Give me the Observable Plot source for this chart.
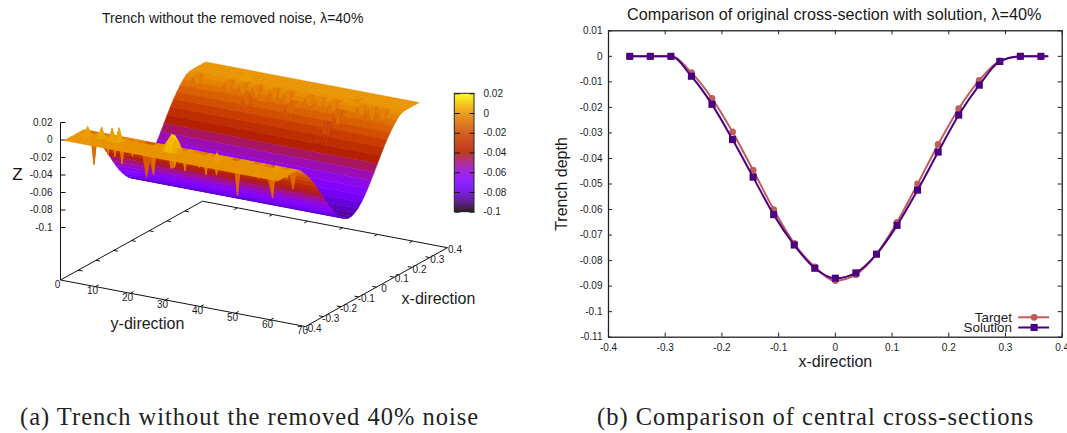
<!DOCTYPE html>
<html>
<head>
<meta charset="utf-8">
<script src="https://cdn.jsdelivr.net/npm/d3@7"></script>
<script src="https://cdn.jsdelivr.net/npm/@observablehq/plot@0.6"></script>
<style>
html,body{margin:0;padding:0;background:#fff;}
#page{position:relative;width:1067px;height:433px;overflow:hidden;font-family:"Liberation Sans",Arial,sans-serif;color:#1a1a1a;}
#page svg{position:absolute;top:0;background:transparent;}
.t{position:absolute;white-space:nowrap;line-height:18px;}
.c{position:absolute;white-space:nowrap;font-family:"Liberation Serif",serif;font-size:24.5px;letter-spacing:1px;line-height:28px;color:#222;}
</style>
</head>
<body>
<div id="page">
  <div class="t" id="titleA" style="left:102px;top:9px;font-size:14px;">Trench without the removed noise, λ=40%</div>
  <div class="t" id="titleB" style="left:627px;top:5px;font-size:16.2px;">Comparison of original cross-section with solution, λ=40%</div>
  <div class="c" id="capA" style="left:20px;top:403px;">(a) Trench without the removed 40% noise</div>
  <div class="c" id="capB" style="left:597px;top:403px;">(b) Comparison of central cross-sections</div>
</div>
<script>
// ---------- Cross-section data (right panel) ----------
const xPositions = [-0.3625,-0.32625,-0.29,-0.25375,-0.2175,-0.18125,-0.145,-0.10875,-0.0725,-0.03625,0,0.03625,0.0725,0.10875,0.145,0.18125,0.2175,0.25375,0.29,0.32625,0.3625];
const targetDepth = [0,0,0,-0.0064,-0.0165,-0.0296,-0.0446,-0.0600,-0.0733,-0.0825,-0.0878,-0.0855,-0.0775,-0.0650,-0.0500,-0.0345,-0.0205,-0.0094,-0.0018,0,0];
const solutionDepth = [0,0,0,-0.0078,-0.0188,-0.0326,-0.0473,-0.0620,-0.0739,-0.0830,-0.0869,-0.0848,-0.0775,-0.0662,-0.0524,-0.0375,-0.0230,-0.0113,-0.0020,0,0];
const crossXTicks = [-0.4,-0.3,-0.2,-0.1,0,0.1,0.2,0.3,0.4];
const crossDepthTicks = [0.01,0,-0.01,-0.02,-0.03,-0.04,-0.05,-0.06,-0.07,-0.08,-0.09,-0.1,-0.11];
const seriesNames = ["Target","Solution"];

// ---------- Surface data (left panel) ----------
const surfaceX = [-0.39875,-0.380625,-0.3625,-0.344375,-0.32625,-0.308125,-0.29,-0.271875,-0.25375,-0.235625,-0.2175,-0.199375,-0.18125,-0.163125,-0.145,-0.126875,-0.10875,-0.090625,-0.0725,-0.054375,-0.03625,-0.018125,0,0.018125,0.03625,0.054375,0.0725,0.090625,0.10875,0.126875,0.145,0.163125,0.18125,0.199375,0.2175,0.235625,0.25375,0.271875,0.29,0.308125,0.32625,0.344375,0.3625,0.380625,0.39875];
const surfaceProfile = [0,0,0,0,0,0,0,-0.0024,-0.0071,-0.0119,-0.0176,-0.0240,-0.0311,-0.0385,-0.0460,-0.0536,-0.0610,-0.0678,-0.0736,-0.0787,-0.0828,-0.0858,-0.0874,-0.0870,-0.0852,-0.0820,-0.0775,-0.0720,-0.0656,-0.0586,-0.0512,-0.0436,-0.0360,-0.0287,-0.0218,-0.0158,-0.0104,-0.0056,-0.0019,-0.0004,0,0,0,0,0];
const surfaceRows = [1,2,3,4,5,6,7,8,9,10,11,12,13,14,15,16,17,18,19,20,21,22,23,24,25,26,27,28,29,30,31,32,33,34,35,36,37,38,39,40,41,42,43,44,45,46,47,48,49,50,51,52,53,54,55,56,57,58,59,60,61,62];
// noise nodes: [y, x, z at that node]
const noiseNodes = [
 [4,-0.32625,0.0101],[8,-0.32625,0.0124],[11,-0.32625,0.0131],[13,-0.32625,0.0154],
 [26,-0.32625,0.006],[27,-0.32625,0.012],[28,-0.32625,0.0192],[29,-0.32625,0.014],[30,-0.32625,0.006],[41,-0.32625,0.0081],[58,-0.32625,0.0065],
 [27,-0.308125,0.012],[28,-0.308125,0.016],[29,-0.308125,0.010],
 [4,-0.29,-0.0373],[8,-0.29,-0.0229],[10,-0.29,-0.0233],[12,-0.29,-0.0304],[15,-0.29,-0.0194],[18,-0.29,-0.0171],
 [19,-0.29,-0.0405],[20,-0.29,-0.02],[21,-0.29,-0.0362],[26,-0.29,-0.0248],[27,-0.29,-0.023],[30,-0.29,-0.0245],
 [34,-0.29,-0.0176],[36,-0.29,-0.0245],[39,-0.29,-0.0225],[45,-0.29,-0.0416],[51,-0.29,-0.0173],[54,-0.29,-0.02],
 [55,-0.29,-0.0367],[59,-0.29,-0.012],[59,-0.25375,-0.0274],
 [16,0.32625,0.010],[48,0.32625,-0.012]
];
// darker plateaus near the far rim: [first y, x of outer column, z]
const farPatches = [
 [4,0.29,-0.012],[13,0.29,-0.014],[17,0.29,-0.013],[21,0.29,-0.014],[26,0.29,-0.014],[30,0.29,-0.013],[36,0.29,-0.012],
 [39,0.29,-0.011],[43,0.29,-0.013],[51,0.29,-0.012],[54,0.29,-0.014],[57,0.29,-0.013],
 [20,0.25375,-0.02],[32,0.25375,-0.019],[46,0.25375,-0.022],[44,0.2175,-0.03]
];
const zTicks = [0.02,0,-0.02,-0.04,-0.06,-0.08,-0.1];
const colorTicks = [0.02,0,-0.02,-0.04,-0.06,-0.08,-0.1];
const surfaceXTicks = [-0.4,-0.3,-0.2,-0.1,0,0.1,0.2,0.3,0.4];
const surfaceYTicks = [0,10,20,30,40,50,60,70];
const colorDomain = [-0.1,0.02];

// gnuplot's default pm3d palette
const palette = t => {
  const r = Math.sqrt(t), g = t*t*t, b = Math.max(0, Math.sin(2*Math.PI*t));
  return `rgb(${Math.round(255*r)},${Math.round(255*g)},${Math.round(255*b)})`;
};
const colorScale = {type:"linear", domain:colorDomain, interpolate:palette, clamp:true};

// ---------- Oblique projection used by gnuplot's splot view ----------
const project = (x,y,z) => ({
  sx: 60 + (x+0.4)/0.8*142 + y/70*245,
  sy: 279.5 - (x+0.4)/0.8*78.8 + y/70*46.5 - (z+0.16)*875
});

// surface heights
const nodeZ = new Map();
noiseNodes.forEach(([y,x,z]) => nodeZ.set(y+"|"+x, z));
farPatches.forEach(([y,x,z]) => {
  const next = surfaceX[surfaceX.indexOf(x)-1];
  [y,y+1].forEach(r => [x,next].forEach(c => nodeZ.set(r+"|"+c, z)));
});
const hasNoise = (j,i) => nodeZ.has(surfaceRows[j]+"|"+surfaceX[i]);
const zAt = (j,i) => hasNoise(j,i) ? nodeZ.get(surfaceRows[j]+"|"+surfaceX[i]) : surfaceProfile[i];
// quads painted back to front; untouched runs of a column are merged so no seams show
const quadPoints = [];
let quadId = 0;
const pushQuad = (i,j0,j1,mean) => {
  [[i,j0],[i+1,j0],[i+1,j1],[i,j1],[i,j0]].forEach(([a,b]) => {
    const p = project(surfaceX[a],surfaceRows[b],zAt(b,a));
    quadPoints.push({sx:p.sx, sy:p.sy, quad:quadId, mean});
  });
  quadId++;
};
for (let i = surfaceX.length-2; i >= 0; i--) {
  let j = 0;
  while (j < surfaceRows.length-1) {
    const noisy = k => hasNoise(k,i)||hasNoise(k,i+1)||hasNoise(k+1,i)||hasNoise(k+1,i+1);
    if (noisy(j)) {
      pushQuad(i,j,j+1,(zAt(j,i)+zAt(j,i+1)+zAt(j+1,i)+zAt(j+1,i+1))/4);
      j++;
    } else {
      let e = j+1;
      while (e < surfaceRows.length-1 && !noisy(e)) e++;
      pushQuad(i,j,e,(surfaceProfile[i]+surfaceProfile[i+1])/2);
      j = e;
    }
  }
}

// base-plane box and ticks
const yMin = surfaceYTicks[0], yMax = surfaceYTicks[surfaceYTicks.length-1];
const xMin = surfaceXTicks[0], xMax = surfaceXTicks[surfaceXTicks.length-1];
const zBase = -0.16;
const seg = (a,b) => { const p=project(...a), q=project(...b); return {x1:p.sx,y1:p.sy,x2:q.sx,y2:q.sy}; };
const baseEdges = [
  seg([xMin,yMin,zBase],[xMin,yMax,zBase]),
  seg([xMin,yMax,zBase],[xMax,yMax,zBase]),
  seg([xMax,yMax,zBase],[xMax,yMin,zBase]),
  seg([xMax,yMin,zBase],[xMin,yMin,zBase]),
  seg([xMin,yMin,zBase],[xMin,yMin,zTicks[0]])
];
const tickSegs = [];
surfaceYTicks.slice(1,-1).forEach(y => {
  tickSegs.push(seg([xMin,y,zBase],[xMin+0.018,y,zBase]));
  tickSegs.push(seg([xMax,y,zBase],[xMax-0.018,y,zBase]));
});
surfaceXTicks.slice(1,-1).forEach(x => {
  tickSegs.push(seg([x,yMax,zBase],[x,yMax-1.2,zBase]));
  tickSegs.push(seg([x,yMin,zBase],[x,yMin+1.2,zBase]));
});
zTicks.forEach(z => {
  const a = project(xMin,yMin,z);
  tickSegs.push({x1:a.sx,y1:a.sy,x2:a.sx+5,y2:a.sy});
});
const xTickLabels = surfaceXTicks.map(x => ({...project(x,yMax,zBase), label:String(x)}));
const yTickLabels = surfaceYTicks.map(y => ({...project(xMin,y,zBase), label:String(y)}));
const zTickLabels = zTicks.map(z => ({...project(xMin,yMin,z), label:String(z)}));

// colour box
const cbX = [454.3,474], cbY = [211.7,93.3];
const cbPix = d3.scaleLinear(colorDomain, cbY);
const cbLevels = d3.range(colorDomain[0], colorDomain[1], 0.0005);

const fontStyle = {fontFamily:"Liberation Sans, Arial, sans-serif"};
const ink = "#1c1c1c";

const plotA = Plot.plot({
  width:540, height:385, margin:0,
  style:{...fontStyle, background:"transparent"},
  x:{domain:[0,540], range:[0,540], axis:null},
  y:{domain:[0,385], range:[0,385], axis:null},
  color:colorScale,
  marks:[
    Plot.link(baseEdges,{x1:"x1",y1:"y1",x2:"x2",y2:"y2",stroke:"#111",strokeWidth:1}),
    Plot.link(tickSegs,{x1:"x1",y1:"y1",x2:"x2",y2:"y2",stroke:"#111",strokeWidth:1}),
    Plot.line(quadPoints,{x:"sx",y:"sy",z:"quad",fill:"mean",stroke:"mean",strokeWidth:0.5,curve:"linear"}),
    Plot.text(xTickLabels,{x:"sx",y:"sy",text:"label",dx:7.5,dy:2,fontSize:10,fill:ink,textAnchor:"middle"}),
    Plot.text(yTickLabels,{x:"sx",y:"sy",text:"label",dx:-3,dy:4.5,fontSize:10,fill:ink,textAnchor:"middle"}),
    Plot.text(zTickLabels,{x:"sx",y:"sy",text:"label",dx:-8,fontSize:10,fill:ink,textAnchor:"end"}),
    Plot.text(["Z"],{x:17,y:174,fontSize:17,fill:"#111"}),
    Plot.text(["x-direction"],{x:438,y:298,fontSize:16,fill:ink}),
    Plot.text(["y-direction"],{x:147,y:323,fontSize:16,fill:ink}),
    Plot.rect(cbLevels,{x1:cbX[0],x2:cbX[1],y1:d=>cbPix(d),y2:d=>cbPix(d+0.0007),fill:d=>d}),
    Plot.link(colorTicks,{x1:cbX[0],x2:cbX[0]+5,y1:d=>cbPix(d),y2:d=>cbPix(d),stroke:"#111"}),
    Plot.link(colorTicks,{x1:cbX[1],x2:cbX[1]-5,y1:d=>cbPix(d),y2:d=>cbPix(d),stroke:"#111"}),
    Plot.rect([0],{x1:cbX[0],x2:cbX[1],y1:cbY[0],y2:cbY[1],fill:"none",stroke:"#222"}),
    Plot.text(colorTicks,{x:483,y:d=>cbPix(d),text:d=>String(d),fontSize:10,fill:ink,textAnchor:"start"})
  ]
});
plotA.style.left = "0px";
document.getElementById("page").appendChild(plotA);

// ---------- Right panel ----------
const rows = name => xPositions.map((x,i) => ({x, z:(name==="Target"?targetDepth:solutionDepth)[i]}));
const targetRows = rows(seriesNames[0]);
const solutionRows = rows(seriesNames[1]);
const lineEnd = {x:0.374, z:0};
const targetColor = "#c05c5c", solutionColor = "#4b0082";
const legendX = [0.3225,0.377], legendMid = 0.3505, legendText = 0.3114;
const legendDepth = [-0.1022,-0.1062];
const xMinC = crossXTicks[0], xMaxC = crossXTicks[crossXTicks.length-1];
const dTop = crossDepthTicks[0], dBot = crossDepthTicks[crossDepthTicks.length-1];

const plotB = Plot.plot({
  width:527, height:385,
  marginLeft:68, marginRight:5.3, marginTop:30.3, marginBottom:48.3,
  style:{...fontStyle, background:"transparent", fontSize:"10px"},
  x:{domain:[xMinC,xMaxC], axis:null},
  y:{domain:[dBot,dTop], axis:null},
  marks:[
    Plot.axisX({ticks:crossXTicks,tickSize:0,tickPadding:6.5,label:null,tickFormat:String,anchor:"bottom",fontSize:10,fill:ink}),
    Plot.axisY({ticks:crossDepthTicks,tickSize:0,tickPadding:6,label:null,tickFormat:String,anchor:"left",fontSize:10,fill:ink}),
    Plot.ruleX(crossXTicks,{y1:dBot,y2:dBot+0.0016,stroke:"#222"}),
    Plot.ruleX(crossXTicks,{y1:dTop,y2:dTop-0.0016,stroke:"#222"}),
    Plot.ruleY(crossDepthTicks,{x1:xMinC,x2:xMinC+0.007,stroke:"#222"}),
    Plot.ruleY(crossDepthTicks,{x1:xMaxC,x2:xMaxC-0.007,stroke:"#222"}),
    Plot.frame({stroke:"#222",strokeWidth:1.3}),
    Plot.line([...targetRows,lineEnd],{x:"x",y:"z",stroke:targetColor,strokeWidth:2,curve:"monotone-x"}),
    Plot.dot(targetRows,{x:"x",y:"z",r:3.4,fill:targetColor,stroke:"none"}),
    Plot.line([...solutionRows,lineEnd],{x:"x",y:"z",stroke:solutionColor,strokeWidth:2,curve:"monotone-x"}),
    Plot.dot(solutionRows,{x:"x",y:"z",symbol:"square",r:4,fill:solutionColor,stroke:"none"}),
    Plot.text(seriesNames,{x:legendText,y:(d,i)=>legendDepth[i],text:d=>d,textAnchor:"end",fontSize:13.4,fill:ink}),
    Plot.link(legendDepth,{x1:legendX[0],x2:legendX[1],y1:d=>d,y2:d=>d,stroke:(d,i)=>i?solutionColor:targetColor,strokeWidth:2}),
    Plot.dot([legendDepth[0]],{x:legendMid,y:d=>d,r:3.4,fill:targetColor,stroke:"none"}),
    Plot.dot([legendDepth[1]],{x:legendMid,y:d=>d,symbol:"square",r:4,fill:solutionColor,stroke:"none"}),
    Plot.text(["x-direction"],{frameAnchor:"bottom",dy:30,fontSize:16,fill:ink}),
    Plot.text(["Trench depth"],{frameAnchor:"left",dx:-47,dy:0,rotate:-90,textAnchor:"middle",fontSize:16,fill:ink})
  ]
});
plotB.style.left = "540px";
document.getElementById("page").appendChild(plotB);
</script>
</body>
</html>
